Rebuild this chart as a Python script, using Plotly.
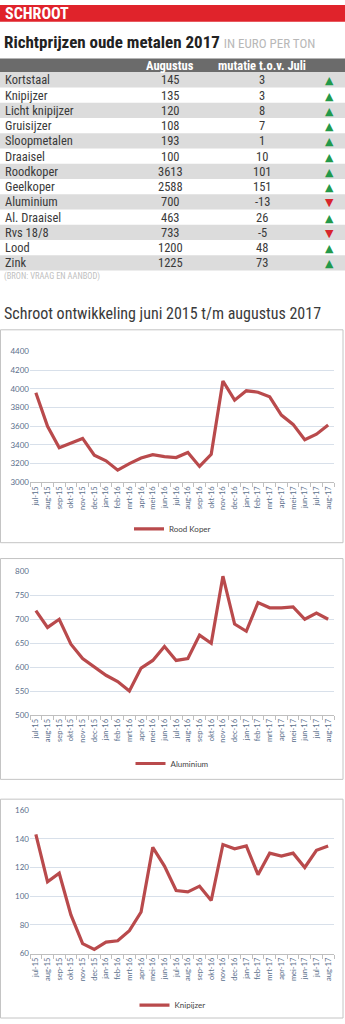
import plotly.graph_objects as go

W, H = 345, 1024

# ---- table data ----
metals = ["Kortstaal", "Knipijzer", "Licht knipijzer", "Gruisijzer", "Sloopmetalen",
          "Draaisel", "Roodkoper", "Geelkoper", "Aluminium", "Al. Draaisel",
          "Rvs 18/8", "Lood", "Zink"]
augustus = [145, 135, 120, 108, 193, 100, 3613, 2588, 700, 463, 733, 1200, 1225]
mutatie = [3, 3, 8, 7, 1, 10, 101, 151, -13, 26, -5, 48, 73]
table_header = ["Augustus", "mutatie t.o.v. Juli"]

# ---- chart data ----
months = ["jul-15", "aug-15", "sep-15", "okt-15", "nov-15", "dec-15", "jan-16", "feb-16",
          "mrt-16", "apr-16", "mei-16", "jun-16", "jul-16", "aug-16", "sep-16", "okt-16",
          "nov-16", "dec-16", "jan-17", "feb-17", "mrt-17", "apr-17", "mei-17", "jun-17",
          "jul-17", "aug-17"]
rood_koper = [3960, 3600, 3370, 3420, 3470, 3290, 3230, 3130, 3200, 3260, 3295, 3275, 3265,
              3320, 3170, 3300, 4085, 3880, 3980, 3965, 3915, 3720, 3620, 3455, 3515, 3613]
aluminium = [718, 683, 700, 648, 618, 600, 583, 570, 550, 598, 614, 643, 614, 618, 667, 650,
             790, 690, 675, 735, 724, 724, 726, 700, 713, 700]
knipijzer = [143, 110, 116, 87, 67, 63, 68, 69, 76, 89, 134, 121, 104, 103, 107, 97, 136,
             133, 135, 115, 130, 128, 130, 120, 132, 135]

LINE = "#b94a4c"
TICK = "#5b6f8c"
GRID = "#d8e0ea"
NARROW = "Liberation Sans Narrow, Roboto Condensed, Roboto, sans-serif"
TICKFONT = "Lato, Open Sans, sans-serif"


def py(px):
    return 1 - px / H


def pxx(px):
    return px / W


fig = go.Figure()
shapes = []
annotations = []


def text(s, x, y, size, color, xanchor="left", family=NARROW, **kw):
    annotations.append(dict(text=s, x=pxx(x), y=py(y), xref="paper", yref="paper",
                            xanchor=xanchor, yanchor="middle", showarrow=False,
                            font=dict(family=family, size=size, color=color, **kw)))


def rect(x0, y0, x1, y1, fill, line=None):
    shapes.append(dict(type="rect", xref="paper", yref="paper", x0=pxx(x0), x1=pxx(x1),
                       y0=py(y1), y1=py(y0), fillcolor=fill, layer="below",
                       line=line or dict(width=0)))


# ---- header ----
rect(0, 0, W, 17, "#e0232b")
text("<b>SCHROOT</b>", 3, 9, 16, "white")
text("<b>Richtprijzen oude metalen 2017</b> <span style='font-size:13px;color:#b8b8b8'>IN EURO PER TON</span>",
     2, 37, 17, "#222")

# ---- table (built from the lists) ----
n = len(metals)
tbl_top, header_h, row_h = 54, 14, 15.4
col_x = [3, 170, 262, 329]
txt = "#3a3a3a"
rect(0, tbl_top, W, tbl_top + header_h, "#6b6b6b")
text("<b>" + table_header[0] + "</b>", col_x[1], tbl_top + header_h / 2, 12.5, "white", "center")
text("<b>" + table_header[1] + "</b>", col_x[2], tbl_top + header_h / 2, 12.5, "white", "center")
for i in range(n):
    y0 = tbl_top + header_h + i * row_h
    yc = y0 + row_h / 2
    if i % 2 == 0:
        rect(0, y0, W, y0 + row_h, "#dcdcdc")
    text(metals[i], col_x[0], yc, 12.5, txt)
    text(str(augustus[i]), col_x[1], yc, 12.5, txt, "center")
    text(str(mutatie[i]), col_x[2], yc, 12.5, txt, "center")
    up = mutatie[i] >= 0
    text("▲" if up else "▼", col_x[3], yc + 1, 11, "#22994a" if up else "#d8262c", "center",
         family="DejaVu Sans")
tbl_bot = tbl_top + header_h + n * row_h
text("(BRON: VRAAG EN AANBOD)", 2, tbl_bot + 6, 8.5, "#c0c0c0")
text("Schroot ontwikkeling juni 2015 t/m augustus 2017", 2, 312, 16, "#3a3a3a")

# ---- charts ----
charts = [
    ("Rood Koper", rood_koper, 350, 482, [3000, 4400], 200, 529),
    ("Aluminium", aluminium, 572, 717, [500, 800], 50, 766),
    ("Knipijzer", knipijzer, 813, 958, [60, 160], 20, 1010),
]
boxes = [(328, 543), (559, 782), (802, 1023)]

for i, (name, vals, top, bot, rng, dt, leg_y) in enumerate(charts):
    k = "" if i == 0 else str(i + 1)
    leg = "legend" + k
    fig.add_trace(go.Scatter(x=months, y=vals, mode="lines", name=name,
                             line=dict(color=LINE, width=3.2),
                             xaxis="x" + k, yaxis="y" + k, legend=leg))
    fig.update_layout({
        "xaxis" + k: dict(domain=[pxx(30), pxx(334)], anchor="y" + k, type="category",
                          range=[-0.5, 25.5], tickangle=-90, showgrid=False,
                          showline=True, linecolor="#bfbfbf", linewidth=1,
                          ticks="outside", ticklen=4, tickcolor="#bfbfbf", tickson="boundaries",
                          tickfont=dict(family=TICKFONT, size=7.5, color=TICK)),
        "yaxis" + k: dict(domain=[py(bot), py(top)], anchor="x" + k, range=rng, dtick=dt,
                          showgrid=True, gridcolor=GRID, gridwidth=1, zeroline=False,
                          showline=False, ticks="",
                          tickfont=dict(family=TICKFONT, size=8, color=TICK)),
        leg: dict(x=0.5, xanchor="center", y=py(leg_y), yanchor="middle",
                  orientation="h", bgcolor="rgba(0,0,0,0)", itemwidth=30,
                  font=dict(family=TICKFONT, size=8, color="#444")),
    })

for (t, b) in boxes:
    shapes.append(dict(type="rect", xref="paper", yref="paper", x0=pxx(0.5), x1=pxx(343),
                       y0=py(b), y1=py(t), line=dict(color="#c4c4c4", width=1),
                       fillcolor="rgba(0,0,0,0)"))

fig.update_layout(width=W, height=H, margin=dict(l=0, r=0, t=0, b=0),
                  paper_bgcolor="white", plot_bgcolor="white",
                  shapes=shapes, annotations=annotations, showlegend=True)

fig.write_html("out.html")
